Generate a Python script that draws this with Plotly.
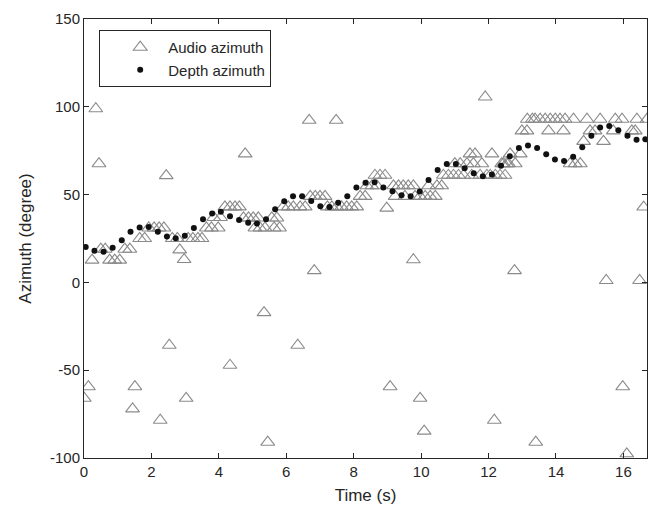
import plotly.graph_objects as go

# Depth azimuth (dots)
depth_t = [0.05, 0.31, 0.58, 0.85, 1.12, 1.38, 1.65, 1.92, 2.19, 2.46, 2.72, 2.99, 3.26, 3.53, 3.80,
           4.06, 4.33, 4.60, 4.87, 5.13, 5.40, 5.67, 5.94, 6.20, 6.47, 6.74, 7.01, 7.28, 7.54, 7.81,
           8.08, 8.35, 8.62, 8.88, 9.15, 9.42, 9.69, 9.96, 10.22, 10.49, 10.76, 11.03, 11.29, 11.56,
           11.83, 12.10, 12.37, 12.63, 12.90, 13.17, 13.44, 13.71, 13.97, 14.24, 14.51, 14.78, 15.05,
           15.31, 15.58, 15.85, 16.12, 16.39, 16.65]
depth_deg = [20.2, 18.0, 17.4, 19.7, 24.0, 28.8, 31.3, 31.5, 28.8, 26.2, 25.1, 26.6, 31.0, 36.0, 39.3,
             40.3, 37.6, 35.6, 33.9, 33.5, 36.0, 41.6, 46.2, 49.0, 49.0, 46.4, 43.4, 42.9, 45.3, 49.0,
             54.1, 56.7, 57.1, 54.1, 51.9, 49.6, 49.0, 51.7, 58.3, 64.0, 67.4, 67.4, 65.0, 62.2,
             60.5, 61.4, 66.5, 71.9, 76.6, 77.9, 76.6, 73.0, 70.0, 69.1, 71.5, 77.0, 83.5,
             88.2, 89.1, 86.7, 83.5, 81.3, 81.5]

# Audio azimuth (open triangles)
audio_t = [0.01, 0.13, 0.24, 0.35, 0.445, 0.50, 0.63, 0.76, 0.91, 1.06, 1.21, 1.36, 1.44, 1.51,
           1.65, 1.80, 1.92, 2.08, 2.23, 2.26, 2.37, 2.44, 2.53, 2.62, 2.77, 2.84, 2.97, 3.03,
           3.09, 3.23, 3.38, 3.50, 3.63, 3.78, 3.85, 3.98, 4.05, 4.18, 4.33, 4.33, 4.48, 4.61,
           4.73, 4.78, 4.88, 5.02, 5.07, 5.17, 5.22, 5.34, 5.37, 5.45, 5.57, 5.64, 5.72, 5.80,
           5.91, 6.06, 6.21, 6.34, 6.41, 6.56, 6.68, 6.71, 6.83, 6.86, 7.00, 7.15, 7.22, 7.35,
           7.48, 7.50, 7.64, 7.79, 7.94, 8.09, 8.19, 8.34, 8.39, 8.54, 8.63, 8.69, 8.78, 8.93,
           8.98, 9.08, 9.18, 9.23, 9.33, 9.47, 9.52, 9.62, 9.77, 9.77, 9.82, 9.97, 9.97, 10.09,
           10.12, 10.22, 10.27, 10.42, 10.47, 10.61, 10.66, 10.81, 10.96, 11.00, 11.11, 11.16,
           11.26, 11.36, 11.45, 11.50, 11.55, 11.60, 11.75, 11.80, 11.90, 11.95, 12.05, 12.10,
           12.17, 12.20, 12.34, 12.39, 12.44, 12.49, 12.54, 12.59, 12.64, 12.77, 12.79, 12.94,
           12.99, 13.14, 13.15, 13.30, 13.38, 13.40, 13.53, 13.68, 13.78, 13.83, 13.98, 14.12,
           14.22, 14.27, 14.42, 14.52, 14.57, 14.72, 14.82, 14.92, 15.01, 15.16, 15.31, 15.41,
           15.49, 15.70, 15.76, 15.96, 15.98, 16.10, 16.25, 16.35, 16.40, 16.48, 16.60, 16.70]
audio_deg = [-66.0, -59.4, 12.7, 98.9, 67.6, 18.9, 18.9, 12.7, 12.7, 12.7, 18.9, 18.9, -72.0, -59.4,
             25.0, 25.0, 31.0, 31.0, 31.0, -78.5, 31.0, 60.8, -35.8, 25.0, 25.0, 18.5, 13.0, -66.0,
             25.0, 25.0, 25.0, 25.0, 31.0, 31.0, 37.0, 31.0, 37.0, 43.0, 43.0, -47.2, 43.0, 43.0,
             36.7, 73.2, 36.7, 36.7, 31.0, 36.7, 31.0, -17.2, 31.0, -91.0, 36.7, 31.0, 36.7, 31.0,
             43.0, 43.0, 43.0, -35.8, 43.0, 43.0, 92.3, 49.0, 6.7, 49.0, 49.0, 49.0, 43.0, 43.0,
             92.3, 43.0, 43.0, 43.0, 43.0, 43.0, 49.0, 49.0, 55.0, 55.0, 61.0, 55.0, 61.0, 61.0,
             42.3, -59.4, 55.0, 49.0, 55.0, 55.0, 49.0, 55.0, 55.0, 12.9, 49.0, 49.0, -66.0, -84.7,
             49.0, 55.0, 49.0, 49.0, 55.0, 55.0, 61.0, 61.0, 61.0, 67.6, 61.0, 67.6,
             61.0, 67.6, 73.2, 61.0, 67.6, 73.2, 61.0, 67.6, 105.6, 61.0, 61.0, 73.2,
             -78.5, 61.0, 61.0, 67.6, 67.6, 61.0, 67.6, 67.6, 73.2, 6.7, 67.6, 73.2,
             86.3, 86.3, 92.9, 92.9, 92.9, -91.0, 92.9, 92.9, 86.3, 92.9, 92.9, 92.9,
             86.3, 92.9, 67.6, 92.9, 67.6, 67.6, 80.3, 92.9, 86.3, 86.3, 92.9, 80.3,
             1.1, 86.3, 92.9, 92.9, -59.4, -97.6, 86.3, 86.3, 92.9, 1.1, 42.9, 92.9]

x_ticks = [0, 2, 4, 6, 8, 10, 12, 14, 16]
y_ticks = [-100, -50, 0, 50, 100, 150]
y_tick_labels = ["-100", "-50", "0", "50", "100", "150"]

axis_color = "#262626"
font_family = "Liberation Sans, Arial, sans-serif"

fig = go.Figure()
fig.add_trace(go.Scatter(
    x=audio_t, y=audio_deg, mode="markers", name="Audio azimuth",
    marker=dict(symbol="triangle-up-open", size=12, color="#8a8a8a", line=dict(width=1.1, color="#8a8a8a")),
))
fig.add_trace(go.Scatter(
    x=depth_t, y=depth_deg, mode="markers", name="Depth azimuth",
    marker=dict(symbol="circle", size=6, color="#111111"),
))

axis_common = dict(
    showline=True, linecolor=axis_color, linewidth=1, mirror="ticks",
    ticks="inside", ticklen=5, tickcolor=axis_color, tickwidth=1,
    showgrid=False, zeroline=False,
    tickfont=dict(family=font_family, size=15, color=axis_color),
)

fig.update_xaxes(range=[0, 16.7], tickvals=x_ticks,
                 title=dict(text="Time (s)", font=dict(family=font_family, size=17, color=axis_color), standoff=10),
                 **axis_common)
fig.update_yaxes(range=[-100, 150], tickvals=y_ticks, ticktext=y_tick_labels,
                 title=dict(text="Azimuth (degree)", font=dict(family=font_family, size=17, color=axis_color), standoff=14),
                 **axis_common)

fig.update_layout(
    width=658, height=514,
    margin=dict(l=84, r=10, t=13, b=56),
    paper_bgcolor="white", plot_bgcolor="white",
    font=dict(family=font_family, color=axis_color),
    legend=dict(x=0.027, y=0.975, xanchor="left", yanchor="top",
                bgcolor="white", bordercolor=axis_color, borderwidth=1,
                font=dict(family=font_family, size=15, color=axis_color),
                itemwidth=46, indentation=12, tracegroupgap=0),
    showlegend=True,
)

fig.write_html("out.html")
